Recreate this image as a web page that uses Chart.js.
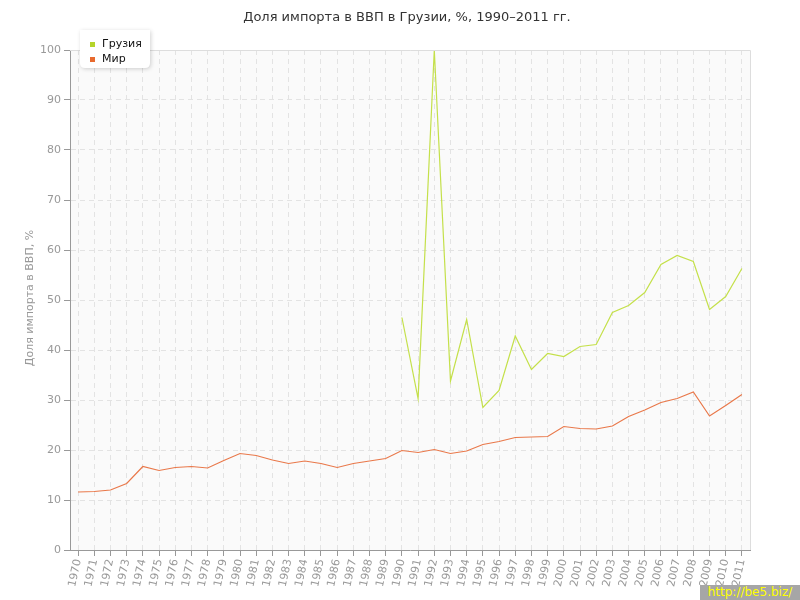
<!DOCTYPE html>
<html>
<head>
<meta charset="utf-8">
<script src="https://cdn.jsdelivr.net/npm/chart.js@4/dist/chart.umd.min.js"></script>
<style>
  html, body { margin: 0; padding: 0; background: #fff; }
  #wrap { position: relative; width: 800px; height: 600px; }
  #wm { position: absolute; left: 700px; top: 585px; width: 100px; height: 15px; background: #a6a6a6; color: #ffff00; font: 12px "DejaVu Sans", sans-serif; line-height: 15px; text-align: center; }
</style>
</head>
<body>
<div id="wrap">
<canvas id="c" width="800" height="600"></canvas>
<div id="wm">http://be5.biz/</div>
</div>
<script>
const years = ["1970","1971","1972","1973","1974","1975","1976","1977","1978","1979","1980","1981","1982","1983","1984","1985","1986","1987","1988","1989","1990","1991","1992","1993","1994","1995","1996","1997","1998","1999","2000","2001","2002","2003","2004","2005","2006","2007","2008","2009","2010","2011"];
const georgia = [null,null,null,null,null,null,null,null,null,null,null,null,null,null,null,null,null,null,null,null,
  46.5,30.3,100,33.8,46.1,28.5,31.9,42.8,36.1,39.3,38.7,40.7,41.1,47.5,48.9,51.5,57.1,58.9,57.7,48.1,50.7,56.3];
const world = [11.6,11.7,12.0,13.3,16.7,15.9,16.5,16.7,16.4,17.9,19.3,18.9,18.0,17.3,17.8,17.3,16.5,17.3,17.8,18.3,
  19.9,19.5,20.1,19.3,19.8,21.1,21.7,22.5,22.6,22.7,24.7,24.3,24.2,24.8,26.7,28.0,29.5,30.3,31.6,26.8,28.9,31.1];
const yTicks = [0,10,20,30,40,50,60,70,80,90,100];
const titleText = "Доля импорта в ВВП в Грузии, %, 1990–2011 гг.";
const yTitle = "Доля импорта в ВВП, %";

Chart.defaults.font.family = "'DejaVu Sans', sans-serif";

const decor = {
  id: 'decor',
  beforeDraw(chart) {
    const {ctx, chartArea: a} = chart;
    ctx.save();
    ctx.fillStyle = '#fafafa';
    ctx.fillRect(a.left, a.top, a.right - a.left, a.bottom - a.top);
    ctx.restore();
  },
  afterDraw(chart) {
    const {ctx, chartArea: a} = chart;
    ctx.save();
    ctx.strokeStyle = '#dddddd';
    ctx.lineWidth = 1;
    ctx.beginPath();
    ctx.moveTo(a.left, a.top + 0.5); ctx.lineTo(a.right + 0.5, a.top + 0.5); ctx.lineTo(a.right + 0.5, a.bottom);
    ctx.stroke();
    // title
    ctx.fillStyle = '#333';
    ctx.font = "13px 'DejaVu Sans', sans-serif";
    ctx.textAlign = 'center';
    ctx.textBaseline = 'middle';
    ctx.fillText(titleText, 407, 18);
    // y title
    ctx.save();
    ctx.translate(30, 298);
    ctx.rotate(-Math.PI / 2);
    ctx.fillStyle = '#999';
    ctx.font = "11px 'DejaVu Sans', sans-serif";
    ctx.fillText(yTitle, 0, 0);
    ctx.restore();
    // legend
    const x0 = 80, y0 = 30, w = 70, h = 38, r = 5;
    ctx.save();
    ctx.shadowColor = 'rgba(0,0,0,0.18)';
    ctx.shadowBlur = 4;
    ctx.shadowOffsetX = 1;
    ctx.shadowOffsetY = 1;
    ctx.fillStyle = '#ffffff';
    ctx.beginPath();
    ctx.moveTo(x0, y0);
    ctx.lineTo(x0 + w, y0);
    ctx.lineTo(x0 + w, y0 + h - r);
    ctx.quadraticCurveTo(x0 + w, y0 + h, x0 + w - r, y0 + h);
    ctx.lineTo(x0 + r, y0 + h);
    ctx.quadraticCurveTo(x0, y0 + h, x0, y0 + h - r);
    ctx.closePath();
    ctx.fill();
    ctx.restore();
    ctx.font = "11px 'DejaVu Sans', sans-serif";
    ctx.textAlign = 'left';
    ctx.textBaseline = 'middle';
    chart.data.datasets.forEach((ds, i) => {
      const cy = 44 + i * 15;
      ctx.fillStyle = ds.legendColor;
      ctx.fillRect(90, cy - 2, 5, 5);
      ctx.fillStyle = '#111';
      ctx.fillText(ds.label, 102, cy);
    });
    ctx.restore();
  }
};

new Chart(document.getElementById('c'), {
  type: 'line',
  data: {
    labels: years,
    datasets: [
      { label: 'Грузия', data: georgia, borderColor: '#c4e04a', legendColor: '#b5d42a', borderWidth: 1.2, pointRadius: 0, tension: 0, spanGaps: false },
      { label: 'Мир', data: world, borderColor: '#e9784a', legendColor: '#e86a2e', borderWidth: 1.2, pointRadius: 0, tension: 0 }
    ]
  },
  options: {
    responsive: false,
    animation: false,
    layout: { padding: { top: 50, right: 50, left: 0, bottom: 0 } },
    plugins: { legend: { display: false }, title: { display: false }, tooltip: { enabled: false } },
    scales: {
      x: {
        offset: true,
        grid: { color: '#e3e3e3', offset: false, tickColor: '#999', tickBorderDash: [], tickLength: 6, drawOnChartArea: true },
        border: { color: '#999', width: 1, dash: [5, 4] },
        ticks: { color: '#999', font: { size: 11 }, minRotation: 78, maxRotation: 78, autoSkip: false, padding: 2 },
        afterFit(s) { s.height = 50; }
      },
      y: {
        min: 0, max: 100,
        afterBuildTicks(s) { s.ticks = yTicks.map(v => ({ value: v })); },
        grid: { color: '#e3e3e3', tickColor: '#999', tickBorderDash: [], tickLength: 6 },
        border: { color: '#999', width: 1, dash: [5, 4] },
        ticks: { color: '#999', font: { size: 11 }, padding: 3 },
        afterFit(s) { s.width = 70; }
      }
    }
  },
  plugins: [decor]
});
</script>
</body>
</html>
